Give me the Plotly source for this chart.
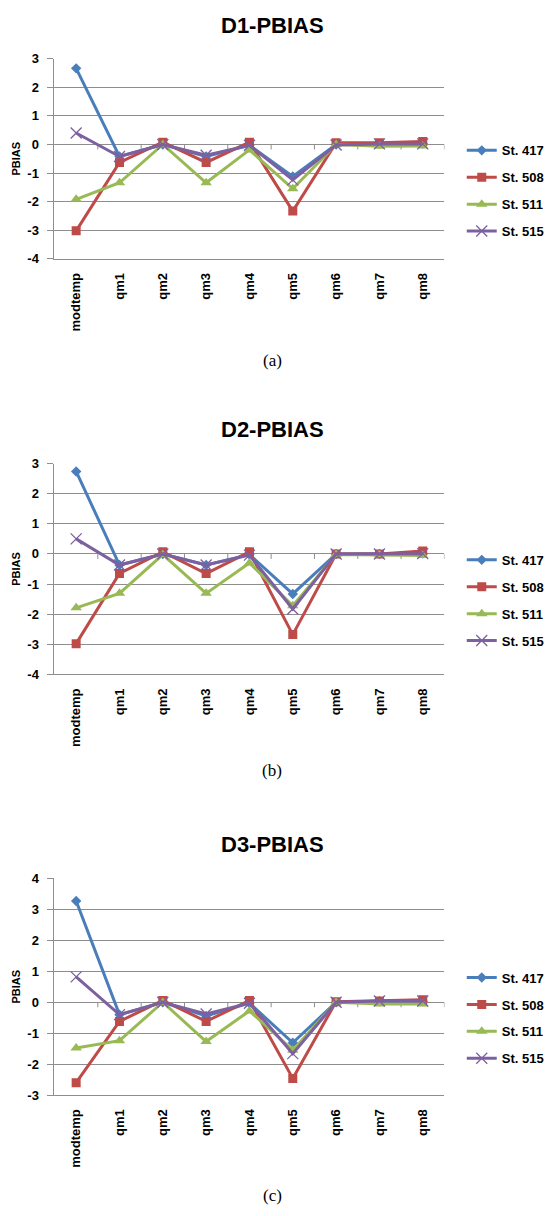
import plotly.graph_objects as go

categories = ["modtemp", "qm1", "qm2", "qm3", "qm4", "qm5", "qm6", "qm7", "qm8"]
stations = ["St. 417", "St. 508", "St. 511", "St. 515"]

# Panel (a) D1-PBIAS
d1_st417 = [2.66, -0.42, 0.0, -0.42, -0.03, -1.12, 0.0, 0.02, 0.03]
d1_st508 = [-3.02, -0.63, 0.08, -0.63, 0.08, -2.33, 0.06, 0.06, 0.10]
d1_st511 = [-1.92, -1.34, 0.0, -1.34, -0.19, -1.55, 0.0, -0.06, -0.05]
d1_st515 = [0.40, -0.42, 0.0, -0.38, -0.03, -1.24, -0.02, 0.02, 0.02]

# Panel (b) D2-PBIAS
d2_st417 = [2.74, -0.37, 0.0, -0.37, -0.02, -1.33, 0.0, 0.0, 0.01]
d2_st508 = [-2.98, -0.65, 0.07, -0.65, 0.07, -2.68, 0.0, 0.0, 0.10]
d2_st511 = [-1.79, -1.31, -0.02, -1.31, -0.30, -1.72, -0.02, -0.03, -0.05]
d2_st515 = [0.50, -0.37, 0.0, -0.37, -0.04, -1.83, 0.0, 0.0, 0.01]

# Panel (c) D3-PBIAS
d3_st417 = [3.27, -0.40, 0.0, -0.44, -0.03, -1.31, 0.0, 0.03, 0.03]
d3_st508 = [-2.60, -0.62, 0.06, -0.62, 0.06, -2.46, 0.02, 0.04, 0.08]
d3_st511 = [-1.48, -1.24, 0.0, -1.27, -0.28, -1.55, 0.0, -0.06, -0.06]
d3_st515 = [0.82, -0.40, 0.0, -0.38, -0.03, -1.66, 0.0, 0.04, 0.04]

panel_titles = ["D1-PBIAS", "D2-PBIAS", "D3-PBIAS"]
captions = ["(a)", "(b)", "(c)"]
y_ranges = [[-4, 3], [-4, 3], [-3, 4]]
panel_series = [
    [d1_st417, d1_st508, d1_st511, d1_st515],
    [d2_st417, d2_st508, d2_st511, d2_st515],
    [d3_st417, d3_st508, d3_st511, d3_st515],
]

W, H = 549, 1216
colors = ["#4A7EBB", "#BE4B48", "#98B954", "#7D60A0"]
symbols = ["diamond", "square", "triangle-up", "x-thin"]
msizes = [8, 9, 10, 11]

# layout geometry (pixels)
plot_left, plot_right = 55, 448.5
plot_tops = [52.3, 462.3, 882.3]
plot_bottoms = [255.0, 675.7, 1101.7]
title_ys = [18.3, 428.0, 848.0]
caption_ys = [358.3, 773.0, 1203.3]
legend_ys = [186.2, 600.8, 1023.7]

GRID = "#8E8E8E"
FONT = "Liberation Sans"

fig = go.Figure()
layout = dict(
    width=W, height=H, margin=dict(l=0, r=0, t=0, b=0),
    paper_bgcolor="white", plot_bgcolor="white",
    showlegend=True, annotations=[], shapes=[],
)

for p in range(3):
    sfx = "" if p == 0 else str(p + 1)
    xa, ya = "x" + sfx, "y" + sfx
    leg = "legend" + sfx
    for s, (name, vals) in enumerate(zip(stations, panel_series[p])):
        marker = dict(symbol=symbols[s], size=msizes[s], color=colors[s])
        if symbols[s] == "x-thin":
            marker["line"] = dict(color=colors[s], width=1.3)
        fig.add_trace(go.Scatter(
            x=categories, y=vals, name=name, mode="lines+markers",
            line=dict(color=colors[s], width=3), marker=marker,
            xaxis=xa, yaxis=ya, legend=leg, legendgroup=f"{p}-{s}",
        ))
    ydom = [1 - plot_bottoms[p] / H, 1 - plot_tops[p] / H]
    lo, hi = y_ranges[p]
    tickvals = list(range(lo, hi + 1))
    layout["xaxis" + sfx] = dict(
        domain=[plot_left / W, plot_right / W], anchor=ya,
        type="category", range=[-0.5, len(categories) - 0.5],
        tickangle=-90, showgrid=False, showline=True, linecolor=GRID, linewidth=1,
        ticks="", ticklabelstandoff=8,
        tickfont=dict(family=FONT, size=13, color="black", weight="bold"),
    )
    layout["yaxis" + sfx] = dict(
        domain=ydom, anchor=xa, range=[lo, hi],
        tickvals=tickvals, ticktext=[str(v) for v in tickvals],
        showgrid=True, gridcolor=GRID, gridwidth=1,
        zeroline=True, zerolinecolor=GRID, zerolinewidth=1,
        showline=True, linecolor=GRID, linewidth=1,
        ticks="outside", ticklen=6, tickcolor=GRID, ticklabelstandoff=6,
        tickfont=dict(family=FONT, size=13, color="black", weight="bold"),
    )
    layout[leg] = dict(
        x=466 / W, xanchor="left", y=1 - legend_ys[p] / H, yanchor="middle",
        font=dict(family=FONT, size=13, color="black", weight="bold"),
        bgcolor="rgba(0,0,0,0)", borderwidth=0, tracegroupgap=7,
        itemwidth=30, traceorder="grouped",
    )
    # title
    layout["annotations"].append(dict(
        text=panel_titles[p], x=0.5, y=1 - title_ys[p] / H, xref="paper", yref="paper",
        showarrow=False, xanchor="center", yanchor="middle",
        font=dict(family=FONT, size=22, color="black", weight="bold"),
    ))
    # y axis title
    layout["annotations"].append(dict(
        text="PBIAS", x=16 / W, y=(ydom[0] + ydom[1]) / 2, xref="paper", yref="paper",
        showarrow=False, textangle=-90, xanchor="center", yanchor="middle",
        font=dict(family=FONT, size=11, color="black", weight="bold"),
    ))
    # caption
    layout["annotations"].append(dict(
        text=captions[p], x=275 / W, y=1 - caption_ys[p] / H, xref="paper", yref="paper",
        showarrow=False, xanchor="center", yanchor="middle",
        font=dict(family="Liberation Serif", size=17, color="black"),
    ))
    # category boundary tick marks on the zero line
    for k in range(len(categories)):
        layout["shapes"].append(dict(
            type="line", xref=xa, yref=ya, x0=k + 0.5, x1=k + 0.5,
            ysizemode="pixel", yanchor=0, y0=0, y1=-5,
            line=dict(color=GRID, width=1), layer="below",
        ))

fig.update_layout(**layout)
fig.write_html(
    "out.html",
    config={"displayModeBar": False},
    post_script="document.body.style.margin='0';document.body.style.overflow='hidden';",
)
